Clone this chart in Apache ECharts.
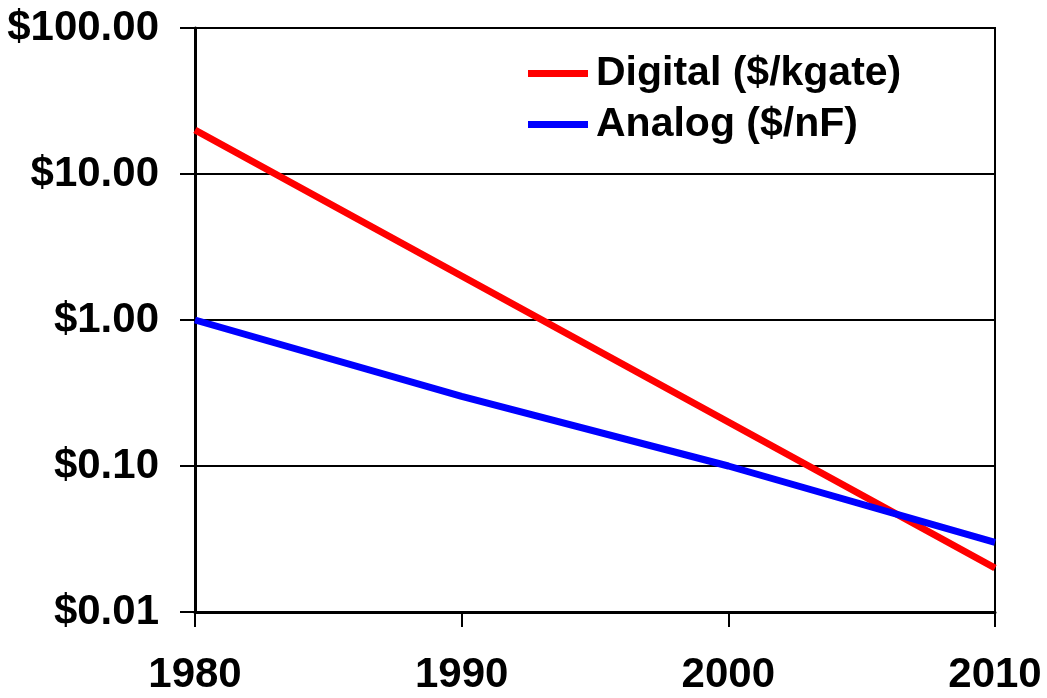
<!DOCTYPE html>
<html>
<head>
<meta charset="utf-8">
<script src="https://cdn.jsdelivr.net/npm/echarts@6/dist/echarts.min.js"></script>
<style>
  html, body { margin: 0; padding: 0; background: #fff; }
  #chart { width: 1047px; height: 698px; }
</style>
</head>
<body>
<div id="chart"></div>
<script>
// data
const years = [1980, 1990, 2000, 2010];
const digital = [20, 2, 0.2, 0.02];     // $/kgate
const analog = [1, 0.3, 0.1, 0.03];     // $/nF

const font = 'Liberation Sans, Arial, sans-serif';

const myChart = echarts.init(document.getElementById('chart'));
myChart.setOption({
    backgroundColor: '#fff',
    animation: false,
    grid: {
        left: 195,
        right: 52,
        top: 28,
        bottom: 86,
        show: true,
        borderColor: '#000',
        borderWidth: 2
    },
    legend: {
        orient: 'vertical',
        left: 523,
        top: 48,
        icon: 'rect',
        itemWidth: 60,
        itemHeight: 7,
        itemGap: 10,
        textStyle: {
            fontFamily: font,
            fontWeight: 'bold',
            fontSize: 41,
            color: '#000',
            lineHeight: 34,
            padding: [0, 0, 0, 3]
        },
        data: ['Digital ($/kgate)', 'Analog ($/nF)']
    },
    xAxis: {
        type: 'value',
        min: 1980,
        max: 2010,
        interval: 10,
        axisLine: { show: true, lineStyle: { color: '#000', width: 3 } },
        axisTick: { show: true, length: 15, lineStyle: { color: '#000', width: 2 } },
        splitLine: { show: false },
        axisLabel: {
            margin: 42,
            fontFamily: font,
            fontWeight: 'bold',
            fontSize: 42,
            color: '#000',
            formatter: function (v) { return String(v); }
        }
    },
    yAxis: {
        type: 'log',
        logBase: 10,
        min: 0.01,
        max: 100,
        axisLine: { show: true, lineStyle: { color: '#000', width: 3 } },
        axisTick: { show: true, length: 15, lineStyle: { color: '#000', width: 2 } },
        minorTick: { show: false },
        splitLine: { show: true, lineStyle: { color: '#000', width: 2 } },
        axisLabel: {
            margin: 36,
            fontFamily: font,
            fontWeight: 'bold',
            fontSize: 42,
            color: '#000',
            formatter: function (v) { return '$' + Number(v).toFixed(2); }
        }
    },
    series: [{
        name: 'Digital ($/kgate)',
        type: 'line',
        symbol: 'none',
        itemStyle: { color: '#ff0000' },
        lineStyle: { color: '#ff0000', width: 7 },
        data: years.map((y, i) => [y, digital[i]])
    }, {
        name: 'Analog ($/nF)',
        type: 'line',
        symbol: 'none',
        itemStyle: { color: '#0000ff' },
        lineStyle: { color: '#0000ff', width: 7 },
        data: years.map((y, i) => [y, analog[i]])
    }]
});
</script>
</body>
</html>
